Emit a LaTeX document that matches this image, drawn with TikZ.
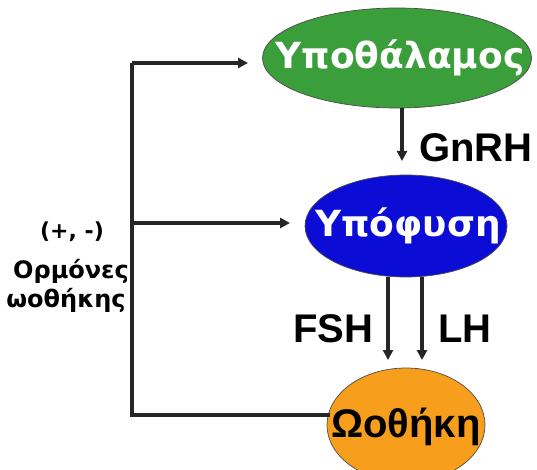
\documentclass[tikz,border=0pt]{standalone}
\usepackage{fontspec}
\setmainfont{Liberation Sans}
\newfontfamily\wide{DejaVu Sans}
\usetikzlibrary{shapes.geometric,arrows.meta}
\definecolor{hypgreen}{RGB}{58,158,58}
\definecolor{pitblue}{RGB}{12,12,215}
\definecolor{ovorange}{RGB}{247,158,28}
\tikzset{
  organ/.style={ellipse, draw=black!70, line width=0.7pt, inner sep=0pt},
  organtext/.style={inner sep=0pt, font=\wide\bfseries\fontsize{36}{40}\selectfont},
  conn/.style={line width=3.2pt, draw=black!85},
  arr/.style={conn, -{Triangle[length=10pt,width=10pt]}},
  lbl/.style={font=\bfseries\fontsize{40}{44}\selectfont, inner sep=0pt},
  side/.style={font=\wide\bfseries\fontsize{24}{28}\selectfont, inner sep=0pt}
}
\begin{document}
\begin{tikzpicture}[x=1pt,y=-1pt]
\useasboundingbox (0,0) rectangle (537,470);
\clip (0,0) rectangle (537,470);
\fill[white] (0,0) rectangle (537,470);
\node[organ, fill=hypgreen, minimum width=269pt, minimum height=100pt] (hyp) at (397,58) {};
\node[organtext, text=white] (hypt) at ([xshift=3pt]hyp.center) {Υποθάλαμος};
\node[organ, fill=pitblue, minimum width=202pt, minimum height=102pt] (pit) at (406,226) {};
\node[organtext, text=white] (pitt) at ([xshift=2pt]pit.center) {Υπόφυση};
\node[organ, fill=ovorange, minimum width=158pt, minimum height=114pt] (ov) at (406,425) {};
\node[organtext, text=black, font=\bfseries\fontsize{40}{44}\selectfont] (ovt) at ([yshift=-2pt]ov.center) {Ωοθήκη};
% left feedback lines
\coordinate (tl) at (132,63);
\coordinate (ml) at (132,223);
\coordinate (bl) at (132,415);
\coordinate (topin) at (248,63);
\coordinate (midin) at (290,223);
\coordinate (ovin) at (330,415);
\draw[conn] (ovin) -- (bl) -- (tl);
\draw[arr] (tl) -- (topin);
\draw[arr] (ml) -- (midin);
% GnRH
\coordinate (gtop) at (402,108);
\coordinate (gbot) at (402,161);
\draw[arr] (gtop) -- (gbot);
\node[lbl] (gnrh) at (476,148) {GnRH};
% FSH / LH
\coordinate (fs) at (388,277);
\coordinate (fe) at (388,360);
\coordinate (ls) at (422,277);
\coordinate (le) at (422,360);
\draw[arr] (fs) -- (fe);
\draw[arr] (ls) -- (le);
\node[lbl] (fsh) at (333,329) {FSH};
\node[lbl] (lh) at (465,329) {LH};
% side text
\node[side, font=\wide\bfseries\fontsize{22}{26}\selectfont] (pm) at (72,232) {(+, -)};
\node[side] (orm) at (71,271) {Ορμόνες};
\node[side] (woth) at (66,300) {ωοθήκης};
\end{tikzpicture}
\end{document}
